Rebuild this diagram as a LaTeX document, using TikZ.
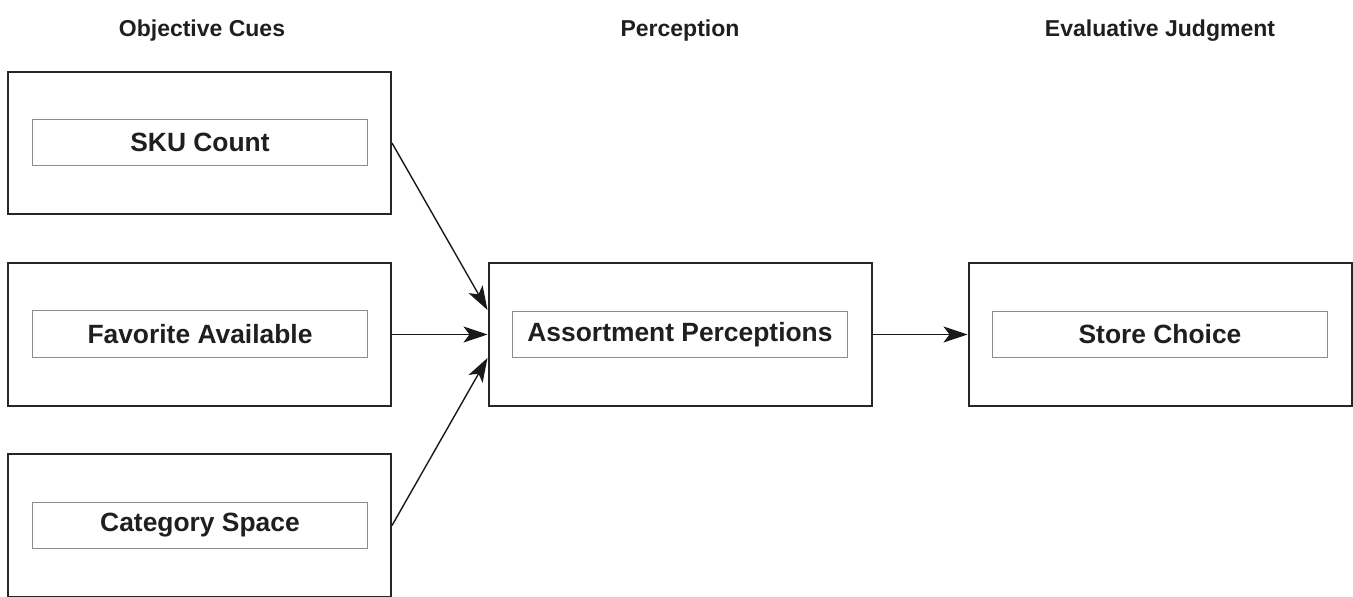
\documentclass[tikz,border=0pt]{standalone}
\usepackage{fontspec}
\setmainfont{Liberation Sans}
\usetikzlibrary{arrows.meta,calc}
\begin{document}
\begin{tikzpicture}[x=0.5pt,y=-0.5pt,
  outerbox/.style={draw=black!85, line width=1pt, minimum width=191.5pt, minimum height=71.3pt, inner sep=0pt},
  innerbox/.style={draw=black!45, line width=0.6pt, minimum width=167.7pt, minimum height=23.3pt, inner sep=0pt,
     font=\bfseries\fontsize{13.2}{15}\selectfont, text=black!88},
  header/.style={font=\bfseries\fontsize{11.5}{14}\selectfont, text=black!88},
  arr/.style={draw=black!90, line width=0.7pt, -{Stealth[length=12pt,width=8pt,inset=3pt]}}]
\useasboundingbox (0,0) rectangle (1353,597);
% headers
\node[header] (h1) at (202,31) {Objective Cues};
\node[header] (h2) at (680,31) {Perception};
\node[header] (h3) at (1160,31) {Evaluative Judgment};
% outer boxes
\node[outerbox] (sku) at (199.5,143) {};
\node[outerbox] (fav) at (199.5,334.5) {};
\node[outerbox] (cat) at (199.5,525.5) {};
\node[outerbox] (mid) at (680,334.5) {};
\node[outerbox] (store) at (1160,334.5) {};
% inner boxes
\node[innerbox] (skuin) at (200,142.5) {SKU Count};
\node[innerbox] (favin) at (200,334) {Favorite Available};
\node[innerbox] (catin) at (200,525.5) {Category Space};
\node[innerbox] (midin) at (680,334.5) {Assortment Perceptions};
\node[innerbox] (storein) at (1160,334.5) {Store Choice};
% connectors
\coordinate (midtop) at ($(mid.west)+(0,-24.5)$);
\coordinate (midbot) at ($(mid.west)+(0,23.5)$);
\draw[arr] (sku.east) -- (midtop);
\draw[arr] (fav.east) -- (mid.west);
\draw[arr] (cat.east) -- (midbot);
\draw[arr] (mid.east) -- (store.west);
\end{tikzpicture}
\end{document}
